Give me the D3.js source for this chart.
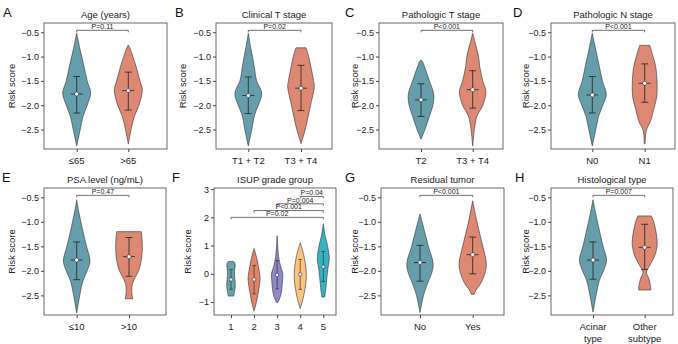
<!DOCTYPE html>
<html>
<head>
<meta charset="utf-8">
<script src="https://cdn.jsdelivr.net/npm/d3@7"></script>
<style>
  body { margin: 0; background: #fff; }
  svg { font-family: "Liberation Sans", Arial, sans-serif; }
</style>
</head>
<body>
<div id="chart"></div>
<script>
// panel titles, letters, group labels and p-values
var letters = ["A", "B", "C", "D", "E", "F", "G", "H"];
var titles = ["Age (years)", "Clinical T stage", "Pathologic T stage", "Pathologic N stage",
  "PSA level (ng/mL)", "ISUP grade group", "Residual tumor", "Histological type"];
var groups = [["≤65", ">65"], ["T1 + T2", "T3 + T4"], ["T2", "T3 + T4"], ["N0", "N1"],
  ["≤10", ">10"], ["1", "2", "3", "4", "5"], ["No", "Yes"], ["Acinar\ntype", "Other\nsubtype"]];
var pLabels = ["P=0.11", "P=0.02", "P<0.001", "P<0.001", "P=0.47", null, "P<0.001", "P=0.007"];

// ISUP panel comparisons: [from group, to group, bracket height, label]
var isupPairs = [[0, 4, 2.0, "P=0.02"], [1, 4, 2.24, "P<0.001"], [2, 4, 2.48, "P=0.004"], [3, 4, 2.74, "P=0.04"]];

// y ticks
var riskTicks = [-0.5, -1.0, -1.5, -2.0, -2.5];
var isupTicks = [3, 2, 1, 0, -1];

// violin outlines: [risk score, relative half-width] bottom to top
var ageViolins = [
  [[-2.84, 0], [-2.5, 0.25], [-2.23, 0.45], [-2.0, 0.75], [-1.75, 1.0], [-1.5, 0.75], [-1.2, 0.52], [-1.0, 0.36], [-0.8, 0.2], [-0.52, 0]],
  [[-2.8, 0], [-2.5, 0.2], [-2.23, 0.43], [-2.0, 0.76], [-1.68, 1.0], [-1.5, 0.83], [-1.2, 0.55], [-1.0, 0.33], [-0.85, 0.15], [-0.76, 0]]
];
var clinTViolins = [
  [[-2.84, 0], [-2.5, 0.25], [-2.2, 0.45], [-2.0, 0.72], [-1.8, 0.95], [-1.7, 0.92], [-1.5, 0.6], [-1.2, 0.42], [-1.0, 0.3], [-0.8, 0.16], [-0.52, 0]],
  [[-2.79, 0], [-2.5, 0.3], [-2.0, 0.68], [-1.62, 0.95], [-1.5, 0.9], [-1.2, 0.7], [-1.0, 0.55], [-0.82, 0.36]]
];
var pathTViolins = [
  [[-2.7, 0], [-2.5, 0.28], [-2.23, 0.6], [-2.0, 0.85], [-1.82, 0.92], [-1.7, 0.85], [-1.5, 0.6], [-1.2, 0.24], [-1.1, 0.1], [-1.07, 0]],
  [[-2.84, 0], [-2.5, 0.12], [-2.23, 0.3], [-2.0, 0.72], [-1.72, 0.95], [-1.5, 0.72], [-1.2, 0.5], [-1.0, 0.42], [-0.8, 0.25], [-0.52, 0]]
];
var pathNViolins = [
  [[-2.84, 0], [-2.5, 0.25], [-2.23, 0.45], [-2.0, 0.75], [-1.78, 1.0], [-1.5, 0.72], [-1.2, 0.5], [-1.0, 0.35], [-0.8, 0.2], [-0.52, 0]],
  [[-2.79, 0.03], [-2.57, 0.08], [-2.45, 0.2], [-2.37, 0.36], [-2.0, 0.72], [-1.82, 0.86], [-1.5, 0.88], [-1.2, 0.78], [-1.0, 0.6], [-0.77, 0.36]]
];
var psaViolins = [
  [[-2.86, 0], [-2.5, 0.22], [-2.2, 0.45], [-2.0, 0.75], [-1.8, 0.95], [-1.5, 0.7], [-1.2, 0.45], [-1.0, 0.3], [-0.8, 0.15], [-0.55, 0]],
  [[-2.57, 0.28], [-2.45, 0.2], [-2.25, 0.26], [-1.97, 0.72], [-1.7, 0.92], [-1.5, 0.95], [-1.3, 0.92], [-1.2, 0.88]]
];
var isupViolins = [
  [[-0.79, 0.45], [-0.6, 0.62], [-0.41, 0.72], [-0.2, 0.65], [0.06, 0.58], [0.3, 0.7], [0.4, 0.6], [0.44, 0.35]],
  [[-1.33, 0], [-1.0, 0.4], [-0.65, 0.7], [-0.18, 1.0], [0.06, 0.88], [0.53, 0.47], [0.9, 0]],
  [[-1.02, 0.1], [-0.76, 0.6], [-0.29, 0.88], [0, 0.94], [0.18, 0.7], [0.53, 0.3], [1.35, 0]],
  [[-1.24, 0], [-0.76, 0.6], [-0.29, 0.95], [0.06, 1.0], [0.65, 0.6], [1.1, 0]],
  [[-0.82, 0.25], [-0.65, 0.35], [-0.29, 0.53], [0.18, 0.76], [0.53, 1.0], [1.0, 0.7], [1.35, 0.3], [1.77, 0]]
];
var residViolins = [
  [[-2.85, 0], [-2.5, 0.25], [-2.3, 0.48], [-2.0, 0.88], [-1.83, 0.93], [-1.5, 0.6], [-1.0, 0.15], [-0.84, 0]],
  [[-2.48, 0.1], [-2.4, 0.22], [-2.24, 0.6], [-2.0, 0.92], [-1.83, 0.97], [-1.5, 0.72], [-1.0, 0.3], [-0.57, 0]]
];
var histViolins = [
  [[-2.84, 0], [-2.5, 0.22], [-2.2, 0.45], [-2.0, 0.75], [-1.78, 0.97], [-1.5, 0.72], [-1.2, 0.48], [-1.0, 0.32], [-0.8, 0.17], [-0.55, 0]],
  [[-2.39, 0.43], [-2.34, 0.43], [-2.16, 0.3], [-2.03, 0.12], [-1.89, 0.36], [-1.69, 0.72], [-1.5, 0.88], [-1.35, 0.88], [-1.0, 0.65], [-0.88, 0.48]]
];
var violins = [ageViolins, clinTViolins, pathTViolins, pathNViolins, psaViolins, isupViolins, residViolins, histViolins];

// median (dot) and whiskers per group
var medians = [[-1.77, -1.70], [-1.80, -1.65], [-1.89, -1.68], [-1.79, -1.55], [-1.78, -1.71],
  [-0.2, -0.2, -0.04, -0.02, 0.25], [-1.83, -1.67], [-1.78, -1.52]];
var lows = [[-2.16, -2.10], [-2.17, -2.11], [-2.23, -2.06], [-2.16, -1.94], [-2.18, -2.11],
  [-0.55, -0.71, -0.53, -0.55, -0.27], [-2.21, -2.06], [-2.17, -1.97]];
var highs = [[-1.41, -1.32], [-1.42, -1.18], [-1.56, -1.29], [-1.41, -1.15], [-1.41, -1.32],
  [0.15, 0.29, 0.47, 0.51, 0.79], [-1.48, -1.31], [-1.41, -1.05]];

var twoColors = ["#659dab", "#dc8872"];
var isupColors = ["#65a2ae", "#df8468", "#8e88c6", "#fbc47e", "#35b3c3"];

// layout: plot box [x0, x1, y0, y1], category centre range, letter x, y-label x
var boxes = [[44, 167, 23, 149], [216, 332, 23, 149], [379, 503, 23, 149], [551, 675, 23, 149],
  [44, 166, 188, 315], [214, 336, 188, 315], [381, 504, 188, 315], [551, 673, 188, 315]];
var centres = [[76.7, 128.3], [248.3, 301], [421, 472.7], [592.3, 644.7],
  [76.7, 129], [231, 323.3], [420, 472.7], [593, 644.7]];
var letterX = [3, 175, 345, 513, 2, 172, 345, 515];
var ylabX = [12, 183, 355, 526, 12, 188, 355, 526];

var width = 678, height = 344;
var svg = d3.select("#chart").append("svg")
  .attr("width", width)
  .attr("height", height);

violins.forEach(function (vs, i) {
  var b = boxes[i];
  var isIsup = i === 5;
  var g = svg.append("g");

  var y = d3.scaleLinear()
    .domain(isIsup ? [-1.46, 3.04] : [-2.9, -0.31])
    .range([b[3], b[2]]);
  var x = d3.scalePoint()
    .domain(groups[i])
    .range(centres[i]);
  var halfW = d3.scaleLinear().domain([0, 1]).range([0, isIsup ? 6 : 14]);
  var colors = isIsup ? isupColors : twoColors;

  // panel letter and title
  svg.append("text").attr("x", letterX[i]).attr("y", b[2] - 6)
    .style("font-size", "13px").style("fill", "#111").text(letters[i]);
  svg.append("text").attr("x", (b[0] + b[1]) / 2).attr("y", b[2] - 5)
    .attr("text-anchor", "middle").style("font-size", "9.5px").style("fill", "#222").text(titles[i]);

  // y axis
  var yAxis = d3.axisLeft(y).tickValues(isIsup ? isupTicks : riskTicks).tickSize(3).tickPadding(2)
    .tickFormat(isIsup ? d3.format("d") : d3.format(".1f"));
  var ya = g.append("g").attr("transform", "translate(" + b[0] + ",0)").call(yAxis);
  ya.select(".domain").remove();
  ya.selectAll("text").style("font-size", "9px").style("fill", "#222")
    .style("font-family", "Liberation Sans, Arial, sans-serif");
  ya.selectAll("line").style("stroke", "#444");

  // x axis ticks and labels
  var xa = g.append("g").attr("transform", "translate(0," + b[3] + ")")
    .call(d3.axisBottom(x).tickSize(3).tickFormat(""));
  xa.select(".domain").remove();
  xa.selectAll("line").style("stroke", "#444");
  groups[i].forEach(function (name) {
    var lines = name.split("\n");
    lines.forEach(function (t, k) {
      g.append("text").attr("x", x(name)).attr("y", b[3] + 15 + k * 12)
        .attr("text-anchor", "middle").style("font-size", "9.5px").style("fill", "#222").text(t);
    });
  });

  // y label
  g.append("text")
    .attr("transform", "translate(" + ylabX[i] + "," + ((b[2] + b[3]) / 2) + ") rotate(-90)")
    .attr("text-anchor", "middle").attr("dy", "0.35em")
    .style("font-size", "9.5px").style("fill", "#222").text("Risk score");

  // violins
  vs.forEach(function (prof, j) {
    var cx = x(groups[i][j]);
    var area = d3.area()
      .y(function (d) { return y(d[0]); })
      .x0(function (d) { return cx - halfW(d[1]); })
      .x1(function (d) { return cx + halfW(d[1]); })
      .curve(d3.curveCatmullRom);
    g.append("path").attr("d", area(prof))
      .style("fill", colors[j]).style("stroke", "#333").style("stroke-width", 0.6);

    var cap = isIsup ? 1.8 : 3.5;
    var mid = isIsup ? 0 : 6;
    g.append("line").attr("x1", cx).attr("x2", cx).attr("y1", y(lows[i][j])).attr("y2", y(highs[i][j]))
      .style("stroke", "#222").style("stroke-width", isIsup ? 0.6 : 0.8);
    [lows[i][j], highs[i][j]].forEach(function (v) {
      g.append("line").attr("x1", cx - cap).attr("x2", cx + cap).attr("y1", y(v)).attr("y2", y(v))
        .style("stroke", "#222").style("stroke-width", isIsup ? 0.6 : 0.8);
    });
    if (mid) {
      g.append("line").attr("x1", cx - mid).attr("x2", cx + mid)
        .attr("y1", y(medians[i][j])).attr("y2", y(medians[i][j]))
        .style("stroke", "#222").style("stroke-width", 0.8);
    }
    g.append("circle").attr("cx", cx).attr("cy", y(medians[i][j])).attr("r", isIsup ? 1.7 : 2)
      .style("fill", "#fff").style("stroke", "#333").style("stroke-width", 0.6);
  });

  // significance brackets
  var brackets = isIsup ? isupPairs : [[0, 1, -0.46, pLabels[i]]];
  brackets.forEach(function (p) {
    var xa0 = x(groups[i][p[0]]), xa1 = x(groups[i][p[1]]), yy = y(p[2]);
    g.append("path")
      .attr("d", "M" + xa0 + "," + (yy + 2) + "V" + yy + "H" + xa1 + "V" + (yy + 2))
      .style("fill", "none").style("stroke", "#333").style("stroke-width", 0.7);
    g.append("text").attr("x", (xa0 + xa1) / 2).attr("y", yy - 1.2)
      .attr("text-anchor", "middle").style("font-size", "7px").style("fill", "#222").text(p[3]);
  });

  // panel frame
  g.append("rect").attr("x", b[0]).attr("y", b[2]).attr("width", b[1] - b[0]).attr("height", b[3] - b[2])
    .style("fill", "none").style("stroke", "#444").style("stroke-width", 0.8);
});
</script>
</body>
</html>
